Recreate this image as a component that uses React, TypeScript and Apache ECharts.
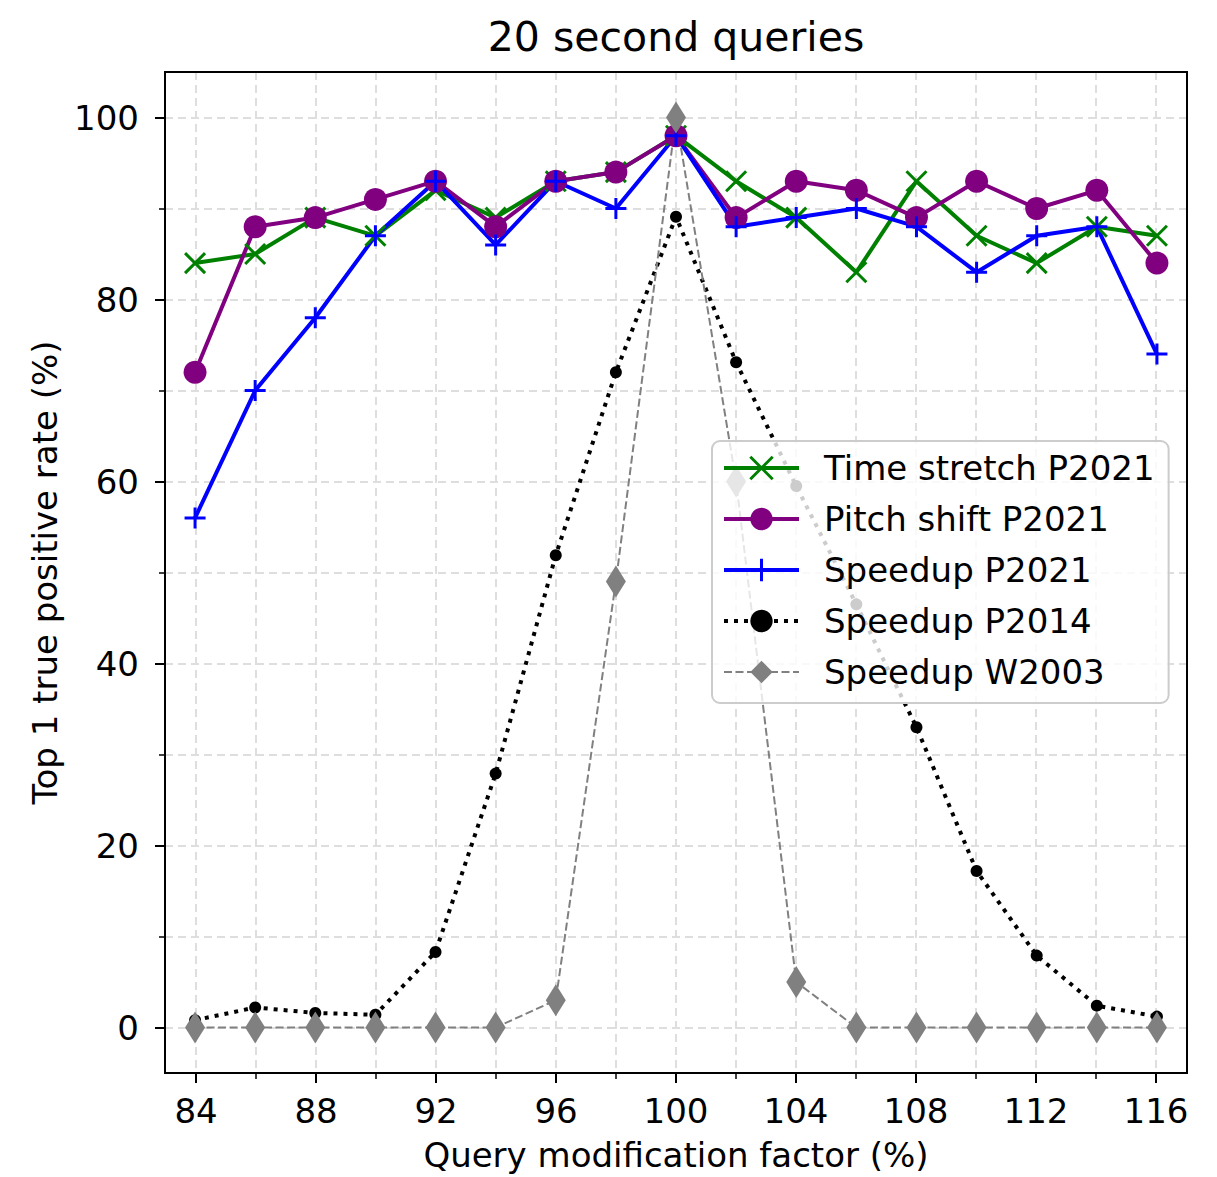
import React, { useEffect, useRef } from "react";
import * as echarts from "echarts";

const factors = [84, 86, 88, 90, 92, 94, 96, 98, 100, 102, 104, 106, 108, 110, 112, 114, 116];
const timeStretchP2021 = [84, 85, 89, 87, 92, 89, 93, 94, 98, 93, 89, 83, 93, 87, 84, 88, 87];
const pitchShiftP2021 = [72, 88, 89, 91, 93, 88, 93, 94, 98, 89, 93, 92, 89, 93, 90, 92, 84];
const speedupP2021 = [56, 70, 78, 87, 93, 86, 93, 90, 98, 88, 89, 90, 88, 83, 87, 88, 74];
const speedupP2014 = [0.8, 2.2, 1.6, 1.4, 8.3, 27.9, 51.9, 72, 89.1, 73.1, 59.5, 46.5, 33, 17.2, 7.9, 2.4, 1.2];
const speedupW2003 = [0, 0, 0, 0, 0, 0, 3, 49, 100, 60, 5, 0, 0, 0, 0, 0, 0];

const seriesNames = [
  "Time stretch P2021",
  "Pitch shift P2021",
  "Speedup P2021",
  "Speedup P2014",
  "Speedup W2003",
];

const FONT = "DejaVu Sans";
const GRID_COLOR = "#dedede";
const X_SYMBOL = "path://M0,0L10,10M10,0L0,10";
const PLUS_SYMBOL = "path://M5,0L5,10M0,5L10,5";

const pairs = (vals: number[]) => factors.map((f, i) => [f, vals[i]]);

export default function App() {
  const ref = useRef<HTMLDivElement>(null);

  useEffect(() => {
    if (!ref.current) return;
    const chart = echarts.init(ref.current, null, { renderer: "svg" });
    const dashed = { color: GRID_COLOR, width: 2, type: [8, 5] as any };

    chart.setOption({
      animation: false,
      backgroundColor: "#ffffff",
      textStyle: { fontFamily: FONT },
      title: {
        text: "20 second queries",
        left: 671,
        textAlign: "center",
        top: 11,
        textStyle: { fontFamily: FONT, fontSize: 41, fontWeight: "normal", color: "#000" },
      },
      grid: [
        { left: 165, right: 30, top: 72, bottom: 104, show: true, borderColor: "#000", borderWidth: 2, backgroundColor: "transparent", z: 3, outerBoundsMode: "none", containLabel: false },
        { left: 196, right: 61, top: 72, bottom: 104, outerBoundsMode: "none", containLabel: false },
        { left: 165, right: 30, top: 118, bottom: 149, outerBoundsMode: "none", containLabel: false },
      ],
      xAxis: [
        {
          type: "value", gridIndex: 0, min: 83, max: 117,
          axisLine: { show: false }, axisTick: { show: false }, axisLabel: { show: false }, splitLine: { show: false },
          name: "Query modification factor (%)", nameLocation: "middle", nameGap: 65,
          nameTextStyle: { fontFamily: FONT, fontSize: 34, color: "#000" },
        },
        {
          type: "value", gridIndex: 1, min: 84, max: 116, interval: 4,
          axisLine: { show: false },
          axisTick: { show: true, length: 10, lineStyle: { color: "#000", width: 2 } },
          minorTick: { show: true, splitNumber: 2, length: 6, lineStyle: { color: "#000", width: 1.5 } },
          axisLabel: { margin: 21, fontFamily: FONT, fontSize: 34, color: "#000" },
          splitLine: { show: true, lineStyle: dashed },
          minorSplitLine: { show: true, lineStyle: dashed },
        },
        { type: "value", gridIndex: 2, min: 0, max: 1, show: false },
      ],
      yAxis: [
        {
          type: "value", gridIndex: 0, min: -5, max: 105,
          axisLine: { show: false }, axisTick: { show: false }, axisLabel: { show: false }, splitLine: { show: false },
          name: "Top 1 true positive rate (%)", nameLocation: "middle", nameGap: 103,
          nameTextStyle: { fontFamily: FONT, fontSize: 34, color: "#000" },
        },
        { type: "value", gridIndex: 1, min: 0, max: 1, show: false },
        {
          type: "value", gridIndex: 2, min: 0, max: 100, interval: 20,
          axisLine: { show: false },
          axisTick: { show: true, length: 10, lineStyle: { color: "#000", width: 2 } },
          minorTick: { show: true, splitNumber: 2, length: 6, lineStyle: { color: "#000", width: 1.5 } },
          axisLabel: { margin: 26, fontFamily: FONT, fontSize: 34, color: "#000" },
          splitLine: { show: true, lineStyle: dashed },
          minorSplitLine: { show: true, lineStyle: dashed },
        },
      ],
      legend: {
        orient: "vertical",
        left: 712,
        top: 441,
        padding: [10, 14, 14, 10],
        itemWidth: 75,
        itemHeight: 28,
        itemGap: 17,
        backgroundColor: "rgba(255,255,255,0.8)",
        borderColor: "#cccccc",
        borderWidth: 2,
        borderRadius: 8,
        textStyle: { fontFamily: FONT, fontSize: 34, lineHeight: 34, color: "#000", padding: [0, 0, 0, 20] },
        data: [
          { name: seriesNames[0], itemStyle: { borderWidth: 3, borderColor: "#008000", color: "#008000" }, lineStyle: { width: 4 } },
          { name: seriesNames[1], lineStyle: { width: 4 } },
          { name: seriesNames[2], itemStyle: { borderWidth: 3, borderColor: "#0000ff", color: "#0000ff" }, lineStyle: { width: 4 } },
          { name: seriesNames[3], lineStyle: { width: 4 } },
          { name: seriesNames[4], lineStyle: { width: 2 } },
        ],
        z: 10,
      },
      series: [
        {
          name: seriesNames[0], type: "line", xAxisIndex: 0, yAxisIndex: 0,
          data: pairs(timeStretchP2021),
          symbol: X_SYMBOL, symbolSize: 20, showAllSymbol: true,
          color: "#008000",
          lineStyle: { color: "#008000", width: 4 },
          itemStyle: { color: "#008000", borderColor: "#008000", borderWidth: 3 },
        },
        {
          name: seriesNames[1], type: "line", xAxisIndex: 0, yAxisIndex: 0,
          data: pairs(pitchShiftP2021),
          symbol: "circle", symbolSize: 23, showAllSymbol: true,
          color: "#800080",
          lineStyle: { color: "#800080", width: 4 },
          itemStyle: { color: "#800080", borderWidth: 0 },
        },
        {
          name: seriesNames[2], type: "line", xAxisIndex: 0, yAxisIndex: 0,
          data: pairs(speedupP2021),
          symbol: PLUS_SYMBOL, symbolSize: 21, showAllSymbol: true,
          color: "#0000ff",
          lineStyle: { color: "#0000ff", width: 4 },
          itemStyle: { color: "#0000ff", borderColor: "#0000ff", borderWidth: 3 },
        },
        {
          name: seriesNames[3], type: "line", xAxisIndex: 0, yAxisIndex: 0,
          data: pairs(speedupP2014),
          symbol: "circle", symbolSize: 12, showAllSymbol: true,
          color: "#000000",
          lineStyle: { color: "#000000", width: 4, type: [4, 6], cap: "butt" },
          itemStyle: { color: "#000000", borderWidth: 0 },
        },
        {
          name: seriesNames[4], type: "line", xAxisIndex: 0, yAxisIndex: 0,
          data: pairs(speedupW2003),
          symbol: "diamond", symbolSize: [20, 32], showAllSymbol: true,
          color: "#808080",
          lineStyle: { color: "#808080", width: 2, type: [8, 3.5] },
          itemStyle: { color: "#808080", borderWidth: 0 },
        },
      ],
    });

    return () => chart.dispose();
  }, []);

  return (
    <div
      ref={ref}
      style={{ position: "fixed", left: 0, top: 0, width: 1217, height: 1177, background: "#fff" }}
    />
  );
}
